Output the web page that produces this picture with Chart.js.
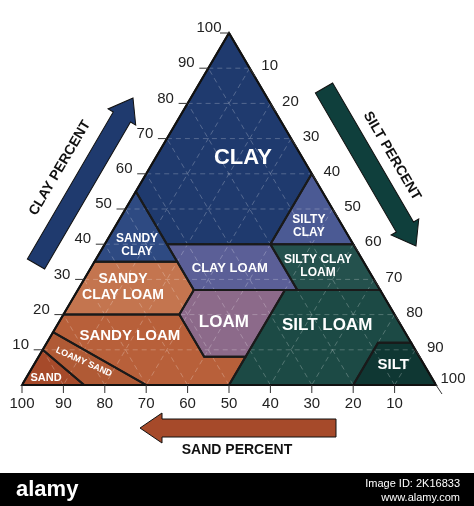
<!DOCTYPE html>
<html><head><meta charset="utf-8">
<script src="https://cdn.jsdelivr.net/npm/chart.js@4"></script>
<style>body{margin:0;background:#fff}#w{width:474px;height:506px;position:relative}</style>
</head><body><div id="w"><canvas id="c"></canvas></div>
<script>
// soil classes, vertices as [sand %, clay %]
const classes = ["Clay","Sandy Clay","Silty Clay","Clay Loam","Silty Clay Loam","Sandy Clay Loam","Loam","Silt Loam","Sandy Loam","Loamy Sand","Sand","Silt"];
const polygons = [
  [[0,100],[45,55],[45,40],[20,40],[0,60]],
  [[45,55],[65,35],[45,35]],
  [[0,60],[20,40],[0,40]],
  [[45,40],[45,27],[20,27],[20,40]],
  [[20,40],[20,27],[0,27],[0,40]],
  [[65,35],[45,35],[45,27],[52,20],[80,20]],
  [[23,27],[45,27],[52,20],[52,8],[42,8]],
  [[0,27],[23,27],[50,0],[20,0],[8,12],[0,12]],
  [[52,20],[80,20],[85,15],[70,0],[50,0],[42,8],[52,8]],
  [[85,15],[90,10],[85,0],[70,0]],
  [[90,10],[100,0],[85,0]],
  [[20,0],[0,0],[0,12],[8,12]]
];
const colors = ["#1f3a6e","#2e4a82","#4b5a94","#5b5f97","#24514d","#c4754f","#8c6a8a","#1c4a45","#b8603a","#b05a35","#a64a2a","#0f3733"];
const labelLines = [["CLAY"],["SANDY","CLAY"],["SILTY","CLAY"],["CLAY LOAM"],["SILTY CLAY","LOAM"],["SANDY","CLAY LOAM"],["LOAM"],["SILT LOAM"],["SANDY LOAM"],["LOAMY SAND"],["SAND"],["SILT"]];
const labelAt = [[14.4,64.5],[52.3,39.8],[8.1,45.2],[33.2,33.2],[11.6,33.8],[61.7,27.8],[42.3,17.9],[17.8,17],[67,13.9],[81.8,6.5],[93.2,2],[7.5,5.7]];
const labelSize = [22,12,12,13,12,14,17,17,15,9,11,15];
const ticks = [10,20,30,40,50,60,70,80,90,100];

const H = Math.sqrt(3)/2*100;
const toXY = ([s,c]) => ({x: 100 - s - c/2, y: c*H/100});

const datasets = polygons.map((p,i) => ({
  label: classes[i],
  data: p.concat([p[0]]).map(toXY),
  showLine: true, fill: false, backgroundColor: colors[i],
  borderColor: "#1a1a1a", borderWidth: 2, pointRadius: 0, tension: 0
}));

const fillPolys = {
  id: "fillPolys",
  beforeDatasetsDraw(chart) {
    const g = chart.ctx, xs = chart.scales.x, ys = chart.scales.y;
    g.save();
    chart.data.datasets.forEach((ds,i) => {
      const pts = chart.getDatasetMeta(i).data;
      g.beginPath();
      pts.forEach((p,j) => j ? g.lineTo(p.x,p.y) : g.moveTo(p.x,p.y));
      g.closePath(); g.fillStyle = ds.backgroundColor; g.fill();
    });
    // dashed grid
    const P = (s,c) => { const q = toXY([s,c]); return [xs.getPixelForValue(q.x), ys.getPixelForValue(q.y)]; };
    g.strokeStyle = "rgba(255,255,255,0.3)"; g.lineWidth = 0.8; g.setLineDash([5,4]);
    for (const t of ticks.slice(0,9)) {
      let a = P(100-t,t), b = P(0,t); g.beginPath(); g.moveTo(...a); g.lineTo(...b); g.stroke();
      a = P(t,0); b = P(t,100-t); g.beginPath(); g.moveTo(...a); g.lineTo(...b); g.stroke();
      a = P(0,100-t); b = P(100-t,0); g.beginPath(); g.moveTo(...a); g.lineTo(...b); g.stroke();
    }
    g.restore();
  }
};

const deco = {
  id: "deco",
  afterDatasetsDraw(chart) {
    const g = chart.ctx, xs = chart.scales.x, ys = chart.scales.y;
    const P = (s,c) => { const q = toXY([s,c]); return [xs.getPixelForValue(q.x), ys.getPixelForValue(q.y)]; };
    g.save();
    g.strokeStyle = "#111"; g.lineWidth = 2;
    g.beginPath(); g.moveTo(...P(100,0)); g.lineTo(...P(0,100)); g.lineTo(...P(0,0)); g.closePath(); g.stroke();
    // region labels
    g.fillStyle = "#fff"; g.textAlign = "center"; g.textBaseline = "middle";
    labelLines.forEach((ls,i) => {
      const [x,y] = P(...labelAt[i]);
      g.font = "bold " + labelSize[i] + "px 'Liberation Sans', Arial";
      g.save(); g.translate(x,y);
      if (i === 9) g.rotate(0.42);
      ls.forEach((l,j) => g.fillText(l, 0, (j-(ls.length-1)/2)*labelSize[i]*1.1));
      g.restore();
    });
    // tick labels
    g.fillStyle = "#222"; g.font = "15px 'Liberation Sans', Arial";
    g.strokeStyle = "#333"; g.lineWidth = 1;
    for (const t of ticks) {
      let [x,y] = P(100-t,t); g.beginPath(); g.moveTo(x,y); g.lineTo(x-9,y); g.stroke();
      g.fillText(t, x-(t===100?20:22), y-5);
      [x,y] = P(0,100-t); g.beginPath(); g.moveTo(x,y); g.lineTo(x+6,y+9); g.stroke();
      g.fillText(t, x+(t===100?17:20), y+(t===100?-6:-2));
      [x,y] = P(t,0); g.beginPath(); g.moveTo(x,y); g.lineTo(x,y+8); g.stroke();
      g.fillText(t, x, y+19);
    }
    // arrows
    const arrow = (x0,y0,x1,y1,w,col) => {
      const ang = Math.atan2(y1-y0,x1-x0), L = Math.hypot(x1-x0,y1-y0), hl = 22;
      g.save(); g.translate(x0,y0); g.rotate(ang);
      g.beginPath(); g.moveTo(0,-w/2); g.lineTo(L-hl,-w/2); g.lineTo(L-hl,-w/2-6); g.lineTo(L,0);
      g.lineTo(L-hl,w/2+6); g.lineTo(L-hl,w/2); g.lineTo(0,w/2); g.closePath();
      g.fillStyle = col; g.fill(); g.strokeStyle = "#111"; g.lineWidth = 1; g.stroke(); g.restore();
    };
    arrow(36,264,133,98,20,"#1f3a6e");
    arrow(324,88,416,246,20,"#0f3f3c");
    arrow(336,428,140,428,18,"#a64a2a");
    g.fillStyle = "#111"; g.font = "bold 14px 'Liberation Sans', Arial";
    g.save(); g.translate(60,168); g.rotate(-1.04); g.fillText("CLAY PERCENT",0,0); g.restore();
    g.save(); g.translate(392,156); g.rotate(1.04); g.fillText("SILT PERCENT",0,0); g.restore();
    g.fillText("SAND PERCENT", 237, 450);
    // footer
    g.fillStyle = "#000"; g.fillRect(0,473,474,33);
    g.fillStyle = "#fff"; g.textAlign = "left"; g.font = "bold 22px 'Liberation Sans', Arial";
    g.fillText("alamy", 16, 490);
    g.font = "11px 'Liberation Sans', Arial"; g.textAlign = "right";
    g.fillText("Image ID: 2K16833", 460, 484); g.fillText("www.alamy.com", 460, 498);
    g.restore();
  }
};

new Chart(document.getElementById("c"), {
  type: "scatter",
  data: { datasets },
  options: {
    responsive: true, maintainAspectRatio: false, animation: false,
    layout: { padding: { left: 22, right: 38, top: 33, bottom: 121 } },
    plugins: { legend: { display: false }, tooltip: { enabled: false } },
    scales: {
      x: { type: "linear", min: 0, max: 100, display: false },
      y: { type: "linear", min: 0, max: H, display: false }
    }
  },
  plugins: [fillPolys, deco]
});
</script></body></html>
